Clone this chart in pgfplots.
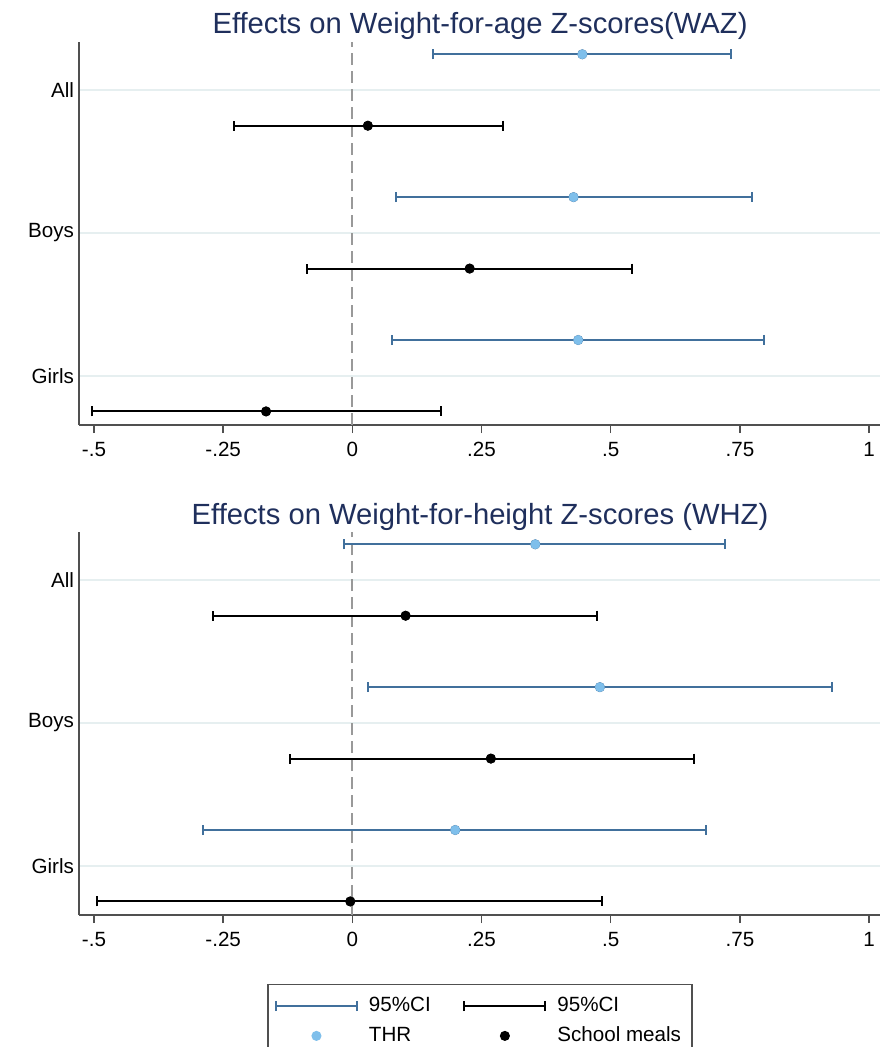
\documentclass[border=0pt]{standalone}
\usepackage{fontspec}
\setmainfont{Liberation Sans}
\usepackage{pgfplots}
\pgfplotsset{compat=1.18}
\usepackage{pgfplotstable}

\definecolor{cinavy}{HTML}{41709C}
\definecolor{thrblue}{HTML}{7FBFEB}
\definecolor{titlenavy}{HTML}{1F2F5C}
\definecolor{spine}{HTML}{505050}
\definecolor{gridc}{HTML}{E6EFF0}

% y: category position (All=3, Boys=2, Girls=1), THR +0.25, school meals -0.25
\pgfplotstableread{
y    est    lo     hi
3.25 0.445  0.157  0.732
2.25 0.428  0.084  0.774
1.25 0.437  0.077  0.796
}\wazthr
\pgfplotstableread{
y    est    lo     hi
2.75 0.030  -0.230 0.291
1.75 0.227  -0.088 0.541
0.75 -0.167 -0.504 0.171
}\wazsm
\pgfplotstableread{
y    est    lo     hi
3.25 0.354  -0.016 0.722
2.25 0.479  0.031  0.928
1.25 0.199  -0.289 0.685
}\whzthr
\pgfplotstableread{
y    est    lo     hi
2.75 0.103  -0.270 0.474
1.75 0.268  -0.120 0.661
0.75 -0.004 -0.495 0.484
}\whzsm

\pgfplotsset{
  forest/.style={
    scale only axis,
    width=401pt, height=191.5pt,
    xmin=-0.529, xmax=1.023,
    ymin=0.655, ymax=3.336,
    axis lines*=left,
    axis line style={spine, line width=0.75pt},
    xtick={-0.5,-0.25,0,0.25,0.5,0.75,1},
    xticklabels={-.5,-.25,0,.25,.5,.75,1},
    tick align=outside,
    major tick length=4pt,
    x tick style={spine, line width=0.75pt},
    ytick={1,2,3},
    yticklabels={Girls,Boys,All},
    y tick style={draw=none},
    yticklabel style={xshift=5pt},
    xticklabel style={yshift=-1pt},
    ymajorgrids,
    y grid style={gridc, line width=0.8pt},
    tick label style={font=\fontsize{10.3}{12}\selectfont, text=black},
    /pgf/number format/assume math mode=true,
    title style={font=\fontsize{14.6}{17}\selectfont, text=titlenavy, at={(0.5,1)}, anchor=base, yshift=-2pt},
    clip=false,
  },
  zeroline/.style={color=gray!80, line width=1pt, dash pattern=on 6pt off 3pt, forget plot},
  cistyle/.style={
    only marks, mark=none, line width=1pt, color=#1,
    /pgfplots/error bars/x dir=both,
    /pgfplots/error bars/x explicit,
    /pgfplots/error bars/error mark=|,
    /pgfplots/error bars/error bar style={line width=1pt, color=#1},
    /pgfplots/error bars/error mark options={line width=1pt, mark size=2.5pt, color=#1},
  },
  cilegend/.style={
    legend image code/.code={
      \draw[line width=1pt, #1] (0pt,0pt) -- (40.5pt,0pt);
      \draw[line width=1pt, #1] (0pt,-2.5pt) -- (0pt,2.5pt) (40.5pt,-2.5pt) -- (40.5pt,2.5pt);
    }
  },
  dotlegend/.style={
    legend image code/.code={
      \path[draw=none] (0pt,0pt) -- (40.5pt,0pt);
      \fill[#1] (20.25pt,0pt) circle (2.2pt);
    }
  },
}

\begin{document}
\begin{tikzpicture}
\useasboundingbox (0,0) rectangle (439.5pt,-523.5pt);

\begin{axis}[forest, at={(39.5pt,-212.5pt)}, anchor=south west,
  title={Effects on Weight-for-age Z-scores(WAZ)}]
\addplot[zeroline] coordinates {(0,0.655) (0,3.336)};
\addplot[cistyle=cinavy] table[x=est, y=y, x error plus expr=\thisrow{hi}-\thisrow{est}, x error minus expr=\thisrow{est}-\thisrow{lo}] {\wazthr};
\addplot[cistyle=black] table[x=est, y=y, x error plus expr=\thisrow{hi}-\thisrow{est}, x error minus expr=\thisrow{est}-\thisrow{lo}] {\wazsm};
\addplot[only marks, mark=*, mark size=2.2pt, color=thrblue] table[x=est, y=y] {\wazthr};
\addplot[only marks, mark=*, mark size=2.2pt, color=black] table[x=est, y=y] {\wazsm};
\end{axis}

\begin{axis}[forest, at={(39.5pt,-457.5pt)}, anchor=south west,
  title={Effects on Weight-for-height Z-scores (WHZ)},
  legend columns=2,
  legend cell align=left,
  legend style={at={(0.5,-0.18)}, anchor=north, draw=spine, line width=0.6pt,
    font=\fontsize{10.3}{12}\selectfont, inner xsep=3.5pt, inner ysep=4.5pt,
    row sep=2pt,
    /tikz/every odd column/.append style={column sep=3.5pt},
    /tikz/every even column/.append style={column sep=14.3pt}}]
\addplot[zeroline] coordinates {(0,0.655) (0,3.336)};
\addplot[cistyle=cinavy, cilegend=cinavy] table[x=est, y=y, x error plus expr=\thisrow{hi}-\thisrow{est}, x error minus expr=\thisrow{est}-\thisrow{lo}] {\whzthr};
\addlegendentry{95\%CI}
\addplot[cistyle=black, cilegend=black] table[x=est, y=y, x error plus expr=\thisrow{hi}-\thisrow{est}, x error minus expr=\thisrow{est}-\thisrow{lo}] {\whzsm};
\addlegendentry{95\%CI}
\addplot[only marks, mark=*, mark size=2.2pt, color=thrblue, dotlegend=thrblue] table[x=est, y=y] {\whzthr};
\addlegendentry{THR}
\addplot[only marks, mark=*, mark size=2.2pt, color=black, dotlegend=black] table[x=est, y=y] {\whzsm};
\addlegendentry{School meals}
\end{axis}
\end{tikzpicture}
\end{document}
